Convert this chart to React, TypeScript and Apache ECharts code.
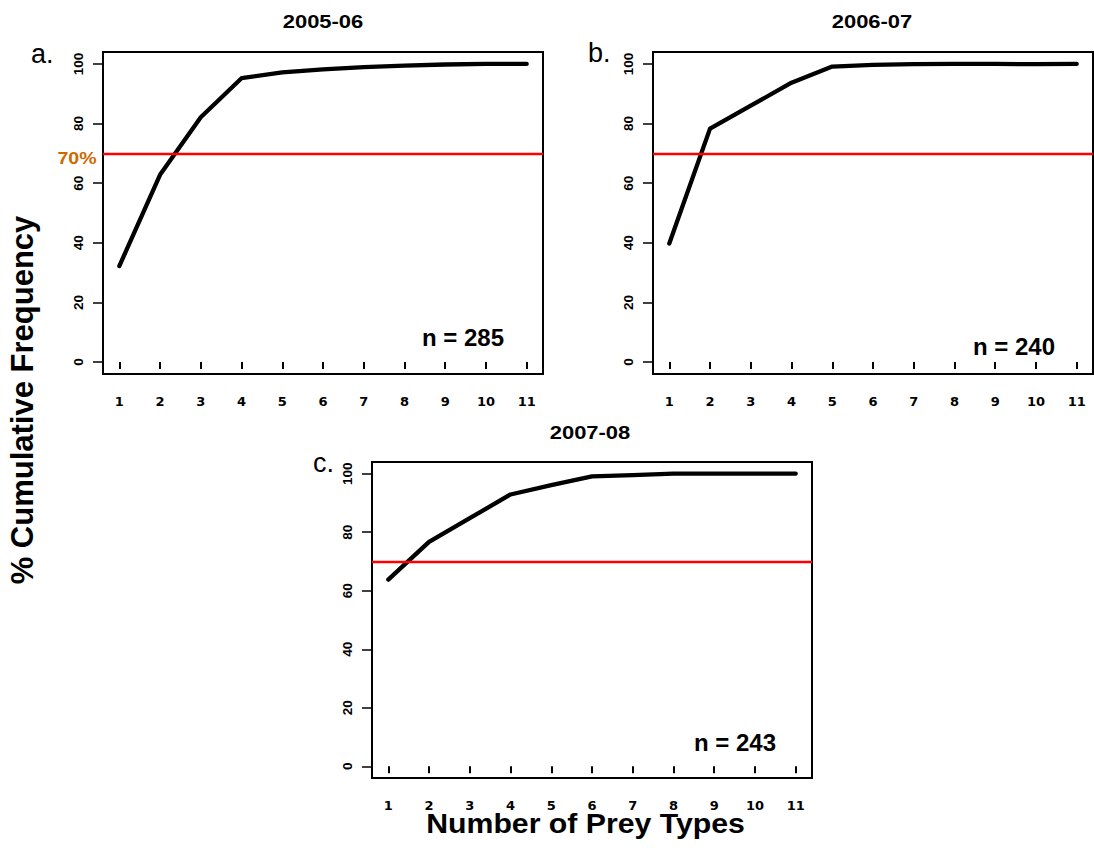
import React, { useEffect, useRef } from "react";
import * as echarts from "echarts";

const preyTypes = [1, 2, 3, 4, 5, 6, 7, 8, 9, 10, 11];
const yTicks = [0, 20, 40, 60, 80, 100];
const cum2005 = [32.2, 62.8, 82.1, 95.2, 97.2, 98.2, 98.9, 99.4, 99.8, 100, 100];
const cum2006 = [39.8, 78.3, 86.0, 93.7, 99.1, 99.7, 99.9, 100, 100, 99.9, 100];
const cum2007 = [63.8, 76.7, 84.8, 92.9, 96.1, 99.1, 99.5, 100, 100, 100, 100];
const seasons = ["2005-06", "2006-07", "2007-08"];
const panelLetters = ["a.", "b.", "c."];
const sampleSizes = [285, 240, 243];
const threshold = 70;
const yAxisTitle = "% Cumulative Frequency";
const xAxisTitle = "Number of Prey Types";

const ARIAL = "'Liberation Sans', Arial, sans-serif";
const DEJAVU = "'DejaVu Sans', sans-serif";

export default function App() {
  const ref = useRef<HTMLDivElement>(null);
  useEffect(() => {
    if (!ref.current) return;
    const chart = echarts.init(ref.current, null, { renderer: "svg" });
    const series = [cum2005, cum2006, cum2007];
    const grids = [
      { left: 103, top: 52, width: 440, height: 322 },
      { left: 653, top: 52, width: 440, height: 322 },
      { left: 372, top: 462, width: 440, height: 316 },
    ];
    const titlePos = [
      [323, 22],
      [872, 21.5],
      [590, 433],
    ];
    const letterPos = [
      [31, 54],
      [588, 53],
      [313, 463],
    ];
    const nPos = [
      [463, 337.5],
      [1014, 346.5],
      [735, 742.5],
    ];
    const graphic: any[] = [];
    seasons.forEach((s, i) => {
      graphic.push({
        type: "text",
        x: titlePos[i][0],
        y: titlePos[i][1],
        scaleX: 1.22,
        style: {
          text: s,
          font: `bold 18px ${ARIAL}`,
          fill: "#000",
          align: "center",
          verticalAlign: "middle",
        },
      });
      graphic.push({
        type: "text",
        x: letterPos[i][0],
        y: letterPos[i][1],
        style: {
          text: panelLetters[i],
          font: `27px ${ARIAL}`,
          fill: "#000",
          align: "left",
          verticalAlign: "middle",
        },
      });
      graphic.push({
        type: "text",
        x: nPos[i][0],
        y: nPos[i][1],
        style: {
          text: `n = ${sampleSizes[i]}`,
          font: `bold 24px ${ARIAL}`,
          fill: "#000",
          align: "center",
          verticalAlign: "middle",
        },
      });
    });
    graphic.push({
      type: "text",
      x: 77,
      y: 158,
      scaleX: 1.15,
      style: {
        text: `${threshold}%`,
        font: `bold 17px ${ARIAL}`,
        fill: "#CC6A00",
        align: "center",
        verticalAlign: "middle",
      },
    });
    graphic.push({
      type: "text",
      x: 22,
      y: 400,
      rotation: Math.PI / 2,
      style: {
        text: yAxisTitle,
        font: `bold 31px ${ARIAL}`,
        fill: "#000",
        align: "center",
        verticalAlign: "middle",
      },
    });
    graphic.push({
      type: "text",
      x: 585.5,
      y: 823,
      scaleX: 1.08,
      style: {
        text: xAxisTitle,
        font: `bold 28px ${ARIAL}`,
        fill: "#000",
        align: "center",
        verticalAlign: "middle",
      },
    });

    const option: any = {
      animation: false,
      backgroundColor: "#fff",
      grid: grids.map((g) => ({
        ...g,
        show: true,
        borderColor: "#000",
        borderWidth: 2,
        backgroundColor: "transparent",
        containLabel: false,
      })),
      xAxis: grids.map((_, i) => ({
        type: "value",
        gridIndex: i,
        min: 0.6,
        max: 11.4,
        axisLine: { show: false },
        splitLine: { show: false },
        axisTick: {
          show: true,
          inside: false,
          length: 7,
          customValues: preyTypes,
          lineStyle: { color: "#000", width: 2 },
        },
        axisLabel: {
          customValues: preyTypes,
          margin: 21,
          color: "#000",
          fontFamily: DEJAVU,
          fontWeight: "bold",
          fontSize: 13,
        },
      })),
      yAxis: grids.map((_, i) => ({
        type: "value",
        gridIndex: i,
        min: -4,
        max: 104,
        axisLine: { show: false },
        splitLine: { show: false },
        axisTick: {
          show: true,
          inside: false,
          length: 10,
          customValues: yTicks,
          lineStyle: { color: "#000", width: 1.5 },
        },
        axisLabel: {
          customValues: yTicks,
          rotate: 90,
          margin: 18,
          color: "#000",
          fontFamily: ARIAL,
          fontWeight: "bold",
          fontSize: 13.5,
        },
      })),
      series: series.map((vals, i) => ({
        type: "line",
        xAxisIndex: i,
        yAxisIndex: i,
        data: preyTypes.map((p, k) => [p, vals[k]]),
        showSymbol: false,
        symbol: "none",
        lineStyle: { color: "#000", width: 4.3, cap: "round", join: "round" },
        markLine: {
          silent: true,
          symbol: "none",
          label: { show: false },
          lineStyle: { color: "#FF0000", width: 2.4, type: "solid" },
          data: [{ yAxis: threshold }],
        },
        z: 3,
      })),
      graphic,
    };
    chart.setOption(option);
    return () => chart.dispose();
  }, []);
  return (
    <div
      ref={ref}
      style={{ position: "absolute", left: 0, top: 0, width: 1094, height: 848 }}
    />
  );
}
